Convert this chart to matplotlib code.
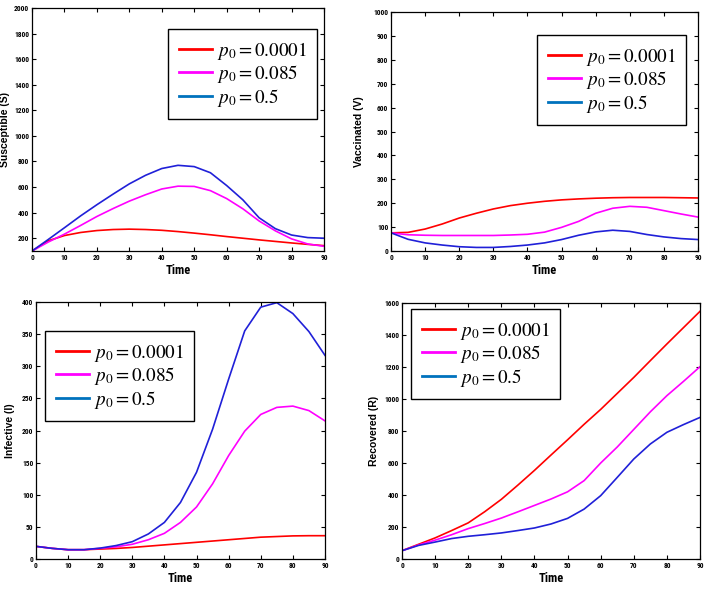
import numpy as np
import matplotlib
matplotlib.use('Agg')
import matplotlib.pyplot as plt
from matplotlib.lines import Line2D

plt.rcParams['mathtext.fontset'] = 'stix'

# time grid (days)
t = [0, 5, 10, 15, 20, 25, 30, 35, 40, 45, 50, 55, 60, 65, 70, 75, 80, 85, 90]

labels = ['$p_0 = 0.0001$', '$p_0 = 0.085$', '$p_0 = 0.5$']

# Susceptible
S_red = [100, 180, 221, 245, 260, 268, 271, 268, 262, 252, 240, 227, 213, 200, 187, 175, 163, 152, 142]
S_mag = [100, 170, 232, 300, 370, 432, 490, 540, 585, 607, 605, 572, 510, 430, 335, 258, 195, 155, 137]
S_blu = [100, 190, 282, 375, 462, 545, 625, 692, 745, 770, 760, 712, 612, 500, 360, 275, 225, 205, 200]

# Vaccinated
V_red = [76, 78, 92, 113, 138, 158, 176, 190, 200, 208, 214, 218, 221, 223, 224, 224, 224, 223, 222]
V_mag = [76, 68, 66, 65, 65, 65, 65, 67, 70, 79, 99, 124, 158, 179, 187, 183, 169, 155, 142]
V_blu = [76, 49, 34, 25, 18, 15, 15, 19, 25, 34, 48, 66, 80, 87, 82, 69, 59, 52, 48]

# Infective
I_red = [19.7, 16.6, 14.5, 14.5, 15.5, 16.5, 18, 20, 22, 24, 26, 28, 30, 32, 34, 35, 36, 36.3, 36.3]
I_mag = [19.7, 16.6, 14.5, 14.5, 16.6, 19, 23, 30, 40, 57, 81, 117, 161, 199, 225, 236, 238, 231, 215]
I_blu = [19.7, 16.6, 14.5, 14.5, 17, 21, 27, 39, 57, 88, 135, 202, 280, 355, 392, 399, 382, 354, 317]

# Recovered
R_red = [52, 92, 132, 178, 226, 296, 373, 462, 554, 650, 745, 842, 935, 1035, 1135, 1240, 1344, 1446, 1548]
R_mag = [52, 88, 118, 152, 190, 222, 256, 295, 335, 375, 420, 490, 600, 700, 810, 920, 1021, 1110, 1202]
R_blu = [52, 85, 106, 128, 142, 152, 163, 178, 194, 219, 254, 312, 396, 510, 625, 719, 792, 840, 885]

line_cols = ['#ff0000', '#ff00ff', '#2020d8']
leg_cols = ['#ff0000', '#ff00ff', '#0072bd']

narrow = ['Liberation Sans Narrow', 'Roboto Condensed', 'Liberation Sans', 'DejaVu Sans']
arial = ['Liberation Sans', 'DejaVu Sans']

fig = plt.figure(figsize=(7.08, 5.93), dpi=100)

panels = [
    ([0.0452, 0.5767, 0.4124, 0.4098], (S_red, S_mag, S_blu), 'Susceptible (S)', (100, 2000), np.arange(200, 2001, 200), (0.2373, 0.9511), -0.075),
    ([0.5523, 0.5767, 0.4336, 0.4030], (V_red, V_mag, V_blu), 'Vaccinated (V)', (0, 1000), np.arange(0, 1001, 100), (0.7585, 0.9410), -0.088),
    ([0.0508, 0.0573, 0.4082, 0.4334], (I_red, I_mag, I_blu), 'Infective (I)', (0, 400), np.arange(0, 401, 50), (0.0636, 0.4418), -0.073),
    ([0.5678, 0.0573, 0.4209, 0.4317], (R_red, R_mag, R_blu), 'Recovered (R)', (0, 1600), np.arange(0, 1601, 200), (0.5805, 0.4789), -0.077),
]

for rect, series, ylab, ylim, yt, legpos, ylx in panels:
    ax = fig.add_axes(rect)
    for y, c in zip(series, line_cols):
        ax.plot(t, y, color=c, lw=1.2)
    ax.set_xlim(0, 90)
    ax.set_ylim(*ylim)
    ax.set_xticks(np.arange(0, 91, 10))
    ax.set_yticks(yt)
    ax.tick_params(direction='in', top=True, right=True, length=3, width=0.8, pad=2)
    for lab in ax.get_xticklabels() + ax.get_yticklabels():
        lab.set_family(narrow)
        lab.set_fontsize(5.3)
        lab.set_fontweight('bold')
    for sp in ax.spines.values():
        sp.set_linewidth(0.9)
    ax.set_xlabel('Time', family=narrow, fontsize=9, fontweight='bold', labelpad=1.5)
    ax.set_ylabel(ylab, family=arial, fontsize=7.5, fontweight='bold')
    ax.yaxis.set_label_coords(ylx, 0.5)
    handles = [Line2D([], [], color=c, lw=2) for c in leg_cols]
    leg = ax.legend(handles, labels, loc='upper left', bbox_to_anchor=legpos, bbox_transform=fig.transFigure,
                    fontsize=13.8, frameon=True, fancybox=False, framealpha=1, edgecolor='black',
                    borderaxespad=0, borderpad=0.55, labelspacing=0.08, handlelength=1.75, handletextpad=0.25)
    leg.get_frame().set_linewidth(1.0)

plt.savefig('out.png', dpi=100)
